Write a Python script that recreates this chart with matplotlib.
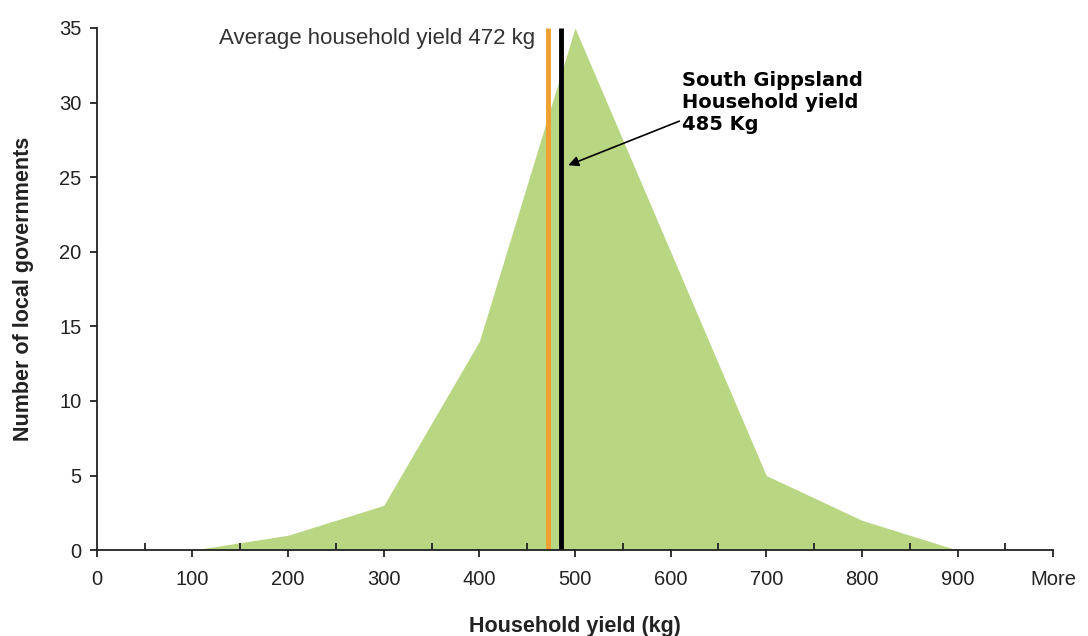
import matplotlib.pyplot as plt
import numpy as np

# histogram of household yield across local governments
yield_bins = [0, 100, 200, 300, 400, 500, 600, 700, 800, 900, 1000]
bin_labels = ['0', '100', '200', '300', '400', '500', '600', '700', '800', '900', 'More']
counts = [0, 0, 1, 3, 14, 35, 20, 5, 2, 0, 0]

avg_yield = 472
sg_yield = 485

plt.rcParams['font.family'] = ['Liberation Sans', 'DejaVu Sans']

fig = plt.figure(figsize=(10.88, 6.36), dpi=100)
ax = fig.add_axes([0.089, 0.135, 0.879, 0.821])

ax.fill_between(yield_bins, counts, 0, color='#b9d682', lw=0, zorder=1)

ax.vlines(avg_yield, 0, 35, color='#f0a030', lw=3.5, zorder=3)
ax.vlines(sg_yield, 0, 35, color='black', lw=3.5, zorder=3)

ax.text(avg_yield - 14, 34.3, 'Average household yield %d kg' % avg_yield,
        ha='right', va='center', fontsize=16, color='#333333')

ax.annotate('South Gippsland\nHousehold yield\n%d Kg' % sg_yield,
            xy=(sg_yield + 8, 25.8), xytext=(612, 30.0),
            fontsize=14, fontweight='bold', family='DejaVu Sans',
            ha='left', va='center', linespacing=1.2,
            arrowprops=dict(arrowstyle='-|>', color='black', lw=1.2,
                            mutation_scale=15, shrinkA=0, shrinkB=0,
                            relpos=(0.05, 0.28)))

ax.set_xlim(0, 1000)
ax.set_ylim(0, 35)
ax.set_xticks(yield_bins)
ax.set_xticklabels(bin_labels)
ax.set_xticks(np.arange(50, 1000, 100), minor=True)
ax.set_yticks(np.arange(0, 36, 5))

for side in ['top', 'right']:
    ax.spines[side].set_visible(False)
for side in ['left', 'bottom']:
    ax.spines[side].set_linewidth(1.3)
    ax.spines[side].set_color('#222222')
ax.spines['bottom'].set_zorder(4)

ax.tick_params(axis='both', labelsize=14.5, colors='#222222', width=1.3)
ax.tick_params(axis='x', which='major', direction='out', length=5, pad=9)
ax.tick_params(axis='x', which='minor', direction='in', length=5, width=1.3, colors='#222222')
ax.tick_params(axis='y', direction='out', length=5, pad=6)

ax.set_xlabel('Household yield (kg)', fontsize=15.5, fontweight='bold', labelpad=20, color='#222222')
ax.set_ylabel('Number of local governments', fontsize=15.5, fontweight='bold', labelpad=18, color='#222222')

fig.savefig('out.png', dpi=100)
